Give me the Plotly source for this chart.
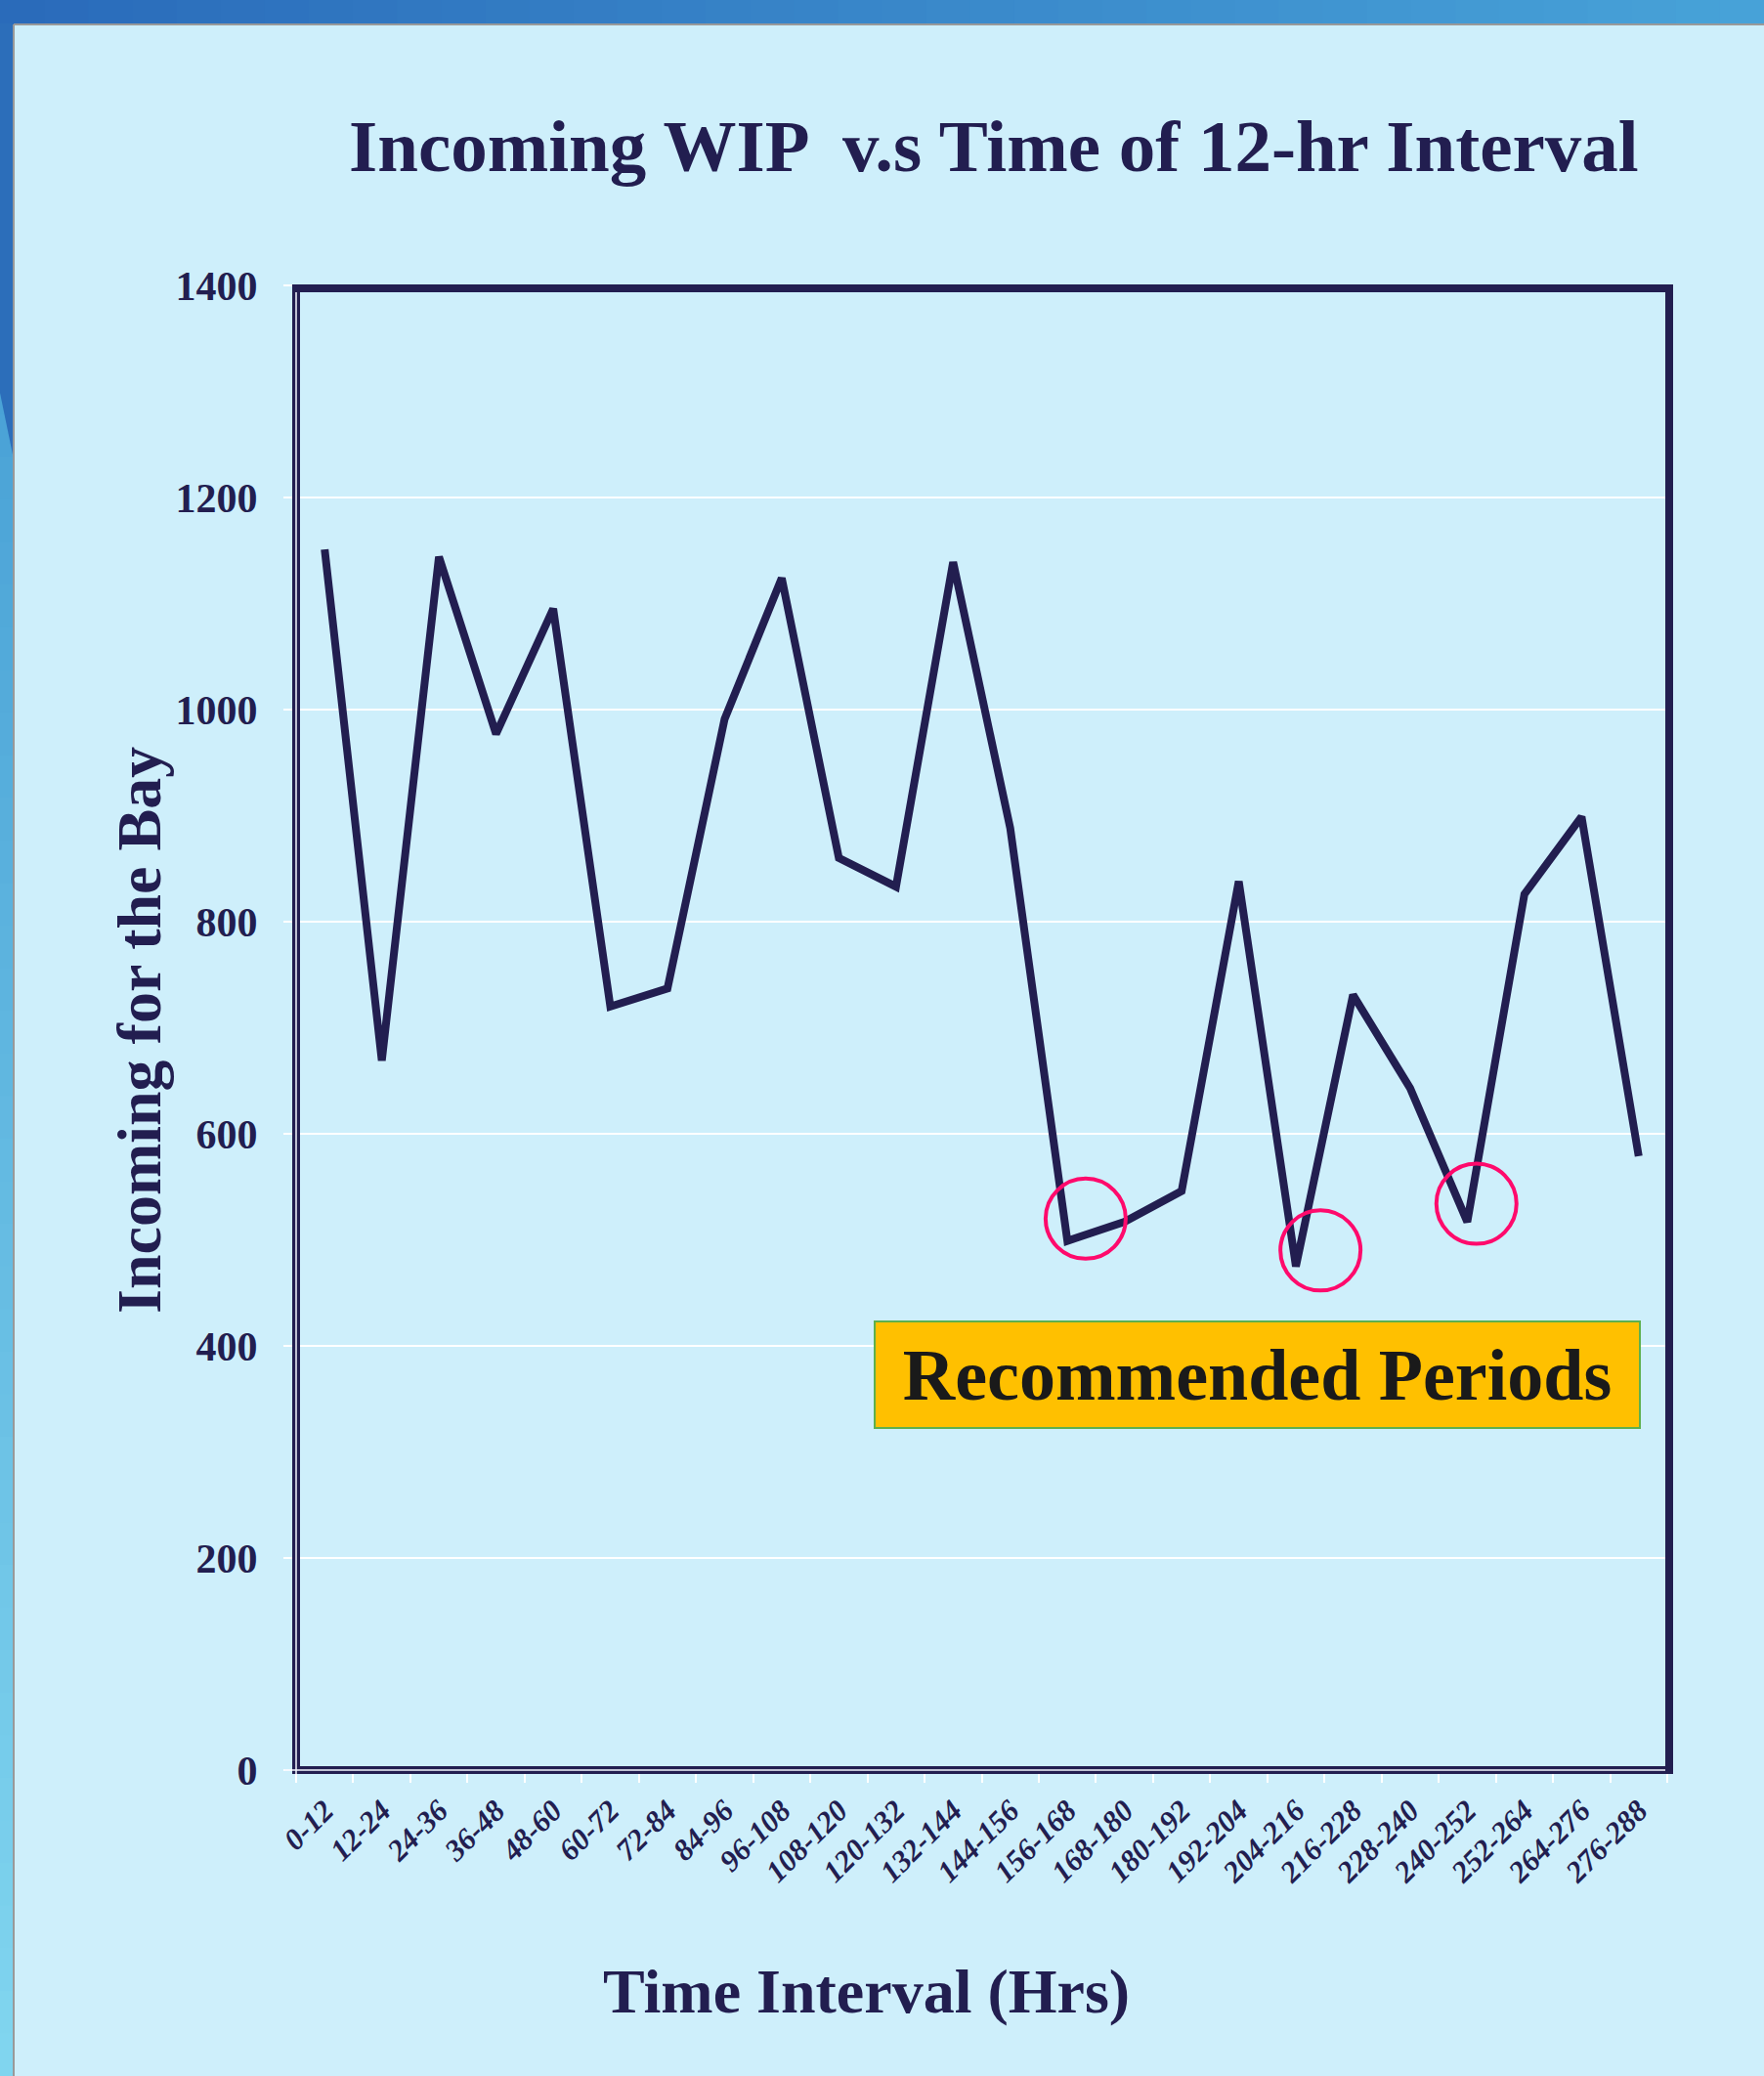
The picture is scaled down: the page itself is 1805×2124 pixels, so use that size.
import numpy as np
import plotly.graph_objects as go

NAVY = "#221E50"
PANEL = "#CEEFFB"
PINK = "#FF0A6C"

intervals = ["0-12", "12-24", "24-36", "36-48", "48-60", "60-72", "72-84", "84-96",
             "96-108", "108-120", "120-132", "132-144", "144-156", "156-168", "168-180",
             "180-192", "192-204", "204-216", "216-228", "228-240", "240-252", "252-264",
             "264-276", "276-288"]
incoming = [1151, 669, 1144, 977, 1095, 720, 737, 991, 1124, 860, 833, 1139, 888,
            499, 517, 546, 838, 475, 731, 643, 517, 826, 899, 579]

# recommended periods (circled), position in interval index units
rec_x = [13.32, 17.43, 20.16]
rec_y = [520, 490, 534]

y_ticks = [0, 200, 400, 600, 800, 1000, 1200, 1400]

W, H = 1805, 2124
L, R, T, B = 303, 99, 292, 313
PW, PH = W - L - R, H - T - B
LW = 8


def px(x):
    return (x - L) / PW


def py(y):
    return (H - B - y) / PH


def mix(c1, c2, t):
    a = [int(c1[i:i + 2], 16) for i in (1, 3, 5)]
    b = [int(c2[i:i + 2], 16) for i in (1, 3, 5)]
    return "#%02x%02x%02x" % tuple(round(a[k] + (b[k] - a[k]) * t) for k in range(3))


idx = list(range(len(intervals)))

fig = go.Figure()
fig.add_trace(go.Scatter(
    x=idx, y=incoming, mode="lines",
    line=dict(color=NAVY, width=8),
    hoverinfo="skip", showlegend=False,
))
fig.add_trace(go.Scatter(
    x=rec_x, y=rec_y, mode="markers",
    marker=dict(symbol="circle-open", size=82, color=PINK, line=dict(width=4, color=PINK)),
    hoverinfo="skip", showlegend=False,
))

# slide frame: gradient bands on top and left
shapes = []
n = 40
for i in range(n):
    shapes.append(dict(
        type="rect", xref="paper", yref="paper", layer="below",
        x0=px(W * i / n), x1=px(W * (i + 1) / n + 1), y0=py(25), y1=py(0),
        fillcolor=mix("#2A6BBA", "#47A2D8", i / (n - 1)), line=dict(width=0),
    ))
    y_a = 380 + (H - 380) * i / n
    y_b = 380 + (H - 380) * (i + 1) / n + 1
    shapes.append(dict(
        type="rect", xref="paper", yref="paper", layer="below",
        x0=px(0), x1=px(13), y0=py(y_b), y1=py(y_a),
        fillcolor=mix("#4AA2D6", "#80D5EF", i / (n - 1)), line=dict(width=0),
    ))
# dark upper part of the left band with a slanted lower edge
shapes.append(dict(
    type="path", xref="paper", yref="paper", layer="below",
    path="M %f,%f L %f,%f L %f,%f L %f,%f Z" % (px(0), py(24), px(13), py(24), px(13), py(465), px(0), py(402)),
    fillcolor="#2C6EBA", line=dict(width=0),
))
shapes.append(dict(type="line", xref="paper", yref="paper", x0=px(14), x1=px(W), y0=py(25), y1=py(25),
                   line=dict(color="#999999", width=2)))
shapes.append(dict(type="line", xref="paper", yref="paper", x0=px(14), x1=px(14), y0=py(25), y1=py(H),
                   line=dict(color="#999999", width=2)))
# plot frame centred on the plot edges
shapes.append(dict(type="rect", xref="paper", yref="paper", layer="above",
                   x0=0, x1=px(W - R + 2), y0=0, y1=py(T + 3), line=dict(color=NAVY, width=LW)))
# thin light line inside the left and bottom frame lines (double-line look)
shapes.append(dict(type="line", xref="paper", yref="paper", layer="above",
                   x0=0, x1=0, y0=py(H - B + LW / 2), y1=py(T + 3 + LW / 2),
                   line=dict(color="#F4F8FF", width=1.5)))
shapes.append(dict(type="line", xref="paper", yref="paper", layer="above",
                   x0=px(L - 12), x1=px(W - R + 2 - LW / 2), y0=0, y1=0,
                   line=dict(color="#F4F8FF", width=1.5)))

annotations = [
    dict(text="Incoming WIP  v.s Time of 12-hr Interval", xref="paper", yref="paper",
         x=px(1017), y=py(150), xanchor="center", yanchor="middle", showarrow=False,
         font=dict(family="Liberation Serif", size=75, color=NAVY, weight="bold")),
    dict(text="Incoming for the Bay", xref="paper", yref="paper", textangle=-90,
         x=px(142), y=py(1054), xanchor="center", yanchor="middle", showarrow=False,
         font=dict(family="Liberation Serif", size=64, color=NAVY, weight="bold")),
    dict(text="Time Interval (Hrs)", xref="paper", yref="paper",
         x=px(886), y=py(2038), xanchor="center", yanchor="middle", showarrow=False,
         font=dict(family="Liberation Serif", size=64, color=NAVY, weight="bold")),
    dict(text="Recommended Periods", xref="paper", yref="paper",
         x=px(1286), y=py(1406), xanchor="center", yanchor="middle", showarrow=False,
         width=781, height=107, borderpad=0, borderwidth=2, bordercolor="#5DB04E",
         bgcolor="#FFC000",
         font=dict(family="Liberation Serif", size=74, color="#1A1A1A", weight="bold")),
]

fig.update_layout(
    width=W, height=H,
    margin=dict(l=L, r=R, t=T, b=B),
    paper_bgcolor=PANEL, plot_bgcolor=PANEL,
    shapes=shapes, annotations=annotations,
    showlegend=False,
)
fig.update_xaxes(
    range=[-0.5, len(intervals) - 0.5],
    tickvals=idx, ticktext=intervals, tickangle=-45,
    ticks="", ticklabelstandoff=16,
    tickfont=dict(family="Liberation Serif", size=31, color=NAVY, weight="bold", style="italic"),
    minor=dict(tickvals=list(np.arange(-0.5, len(intervals), 1.0)), ticks="outside",
               ticklen=12, tickwidth=2, tickcolor="white", showgrid=False),
    showgrid=False, zeroline=False, showline=False,
)
fig.update_yaxes(
    range=[0, 1400], tickvals=y_ticks,
    ticks="outside", ticklen=12, tickwidth=2, tickcolor="white", ticklabelstandoff=18,
    tickfont=dict(family="Liberation Serif", size=42, color=NAVY, weight="bold"),
    showgrid=True, gridcolor="white", gridwidth=2, zeroline=False, showline=False,
)

fig.write_html("out.html", config={"displayModeBar": False},
               post_script="document.body.style.margin='0px';")
